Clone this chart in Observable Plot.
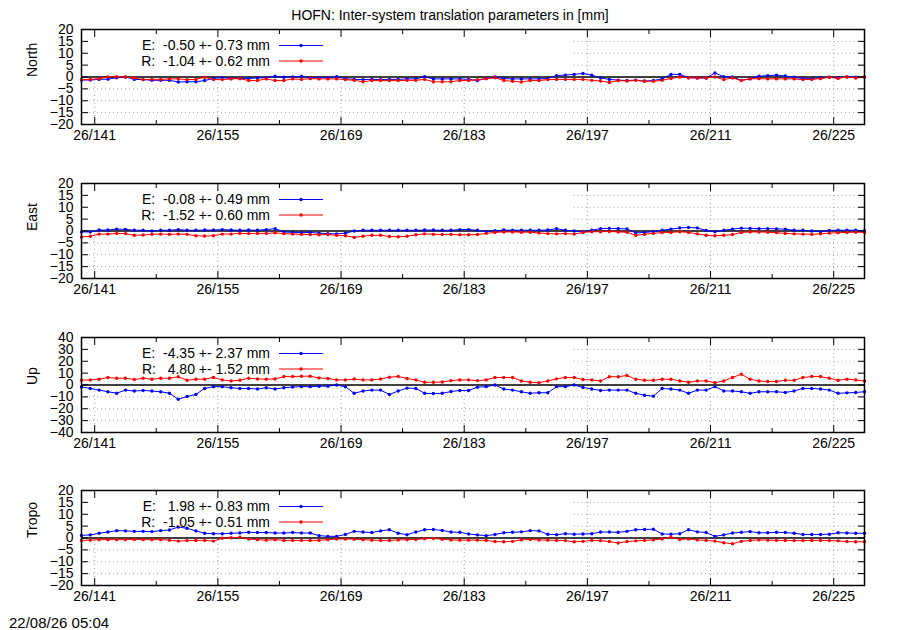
<!DOCTYPE html>
<html>
<head>
<meta charset="utf-8">
<script src="https://cdn.jsdelivr.net/npm/d3@7"></script>
<script src="https://cdn.jsdelivr.net/npm/@observablehq/plot@0.6"></script>
<style>
body { margin: 0; background: #fff; font-family: "Liberation Sans", Arial, sans-serif; }
#page { position: relative; width: 900px; height: 630px; overflow: hidden; background: #fff; }
.panel { position: absolute; left: 0; }
#title { position: absolute; left: 0; width: 900px; top: 7px; text-align: center; font-size: 14px; line-height: 16px; }
#stamp { position: absolute; left: 9px; top: 615px; font-size: 15px; line-height: 15px; z-index: 5; }
svg text { white-space: pre; }
</style>
</head>
<body>
<div id="page">
  <div id="title">HOFN: Inter-system translation parameters in [mm]</div>
  <div id="stamp">22/08/26 05:04</div>
</div>
<script>
// day of year (2026), one solution per day
const days = [139.5,140.5,141.5,142.5,143.5,144.5,145.5,146.5,147.5,148.5,
  149.5,150.5,151.5,152.5,153.5,154.5,155.5,156.5,157.5,158.5,
  159.5,160.5,161.5,162.5,163.5,164.5,165.5,166.5,167.5,168.5,
  169.5,170.5,171.5,172.5,173.5,174.5,175.5,176.5,177.5,178.5,
  179.5,180.5,181.5,182.5,183.5,184.5,185.5,186.5,187.5,188.5,
  189.5,190.5,191.5,192.5,193.5,194.5,195.5,196.5,197.5,198.5,
  199.5,200.5,201.5,202.5,203.5,204.5,205.5,206.5,207.5,208.5,
  209.5,210.5,211.5,212.5,213.5,214.5,215.5,216.5,217.5,218.5,
  219.5,220.5,221.5,222.5,223.5,224.5,225.5,226.5,227.5,228.5];

const majorTicks = [141, 155, 169, 183, 197, 211, 225];
const minorTicks = [148, 162, 176, 190, 204, 218];
const ticks20 = [20, 15, 10, 5, 0, -5, -10, -15, -20];
const ticks40 = [40, 30, 20, 10, 0, -10, -20, -30, -40];

const northE = [-1.3,-1.3,-1.0,-0.9,-0.3,0.0,-1.0,-1.1,-1.4,-1.4,
  -1.4,-2.1,-2.0,-2.0,-1.5,-0.6,-0.3,-0.6,-0.6,-0.6,
  -0.4,-0.3,0.3,-0.1,0.0,0.3,-0.3,-0.3,-0.3,0.1,
  -0.7,-1.0,-1.1,-1.0,-1.1,-1.0,-1.0,-0.8,-0.8,0.1,
  -0.8,-0.8,-0.8,-0.8,-1.0,-1.5,-0.6,0.0,-0.7,-0.8,
  -0.8,-0.8,-0.8,-0.6,0.6,0.8,1.1,1.5,0.8,-0.4,
  -1.0,-1.3,-1.5,-1.3,-1.7,-1.5,-0.8,1.1,1.1,-0.3,
  -0.4,-0.4,1.7,0.1,0.0,-1.4,-0.7,0.3,0.6,0.8,
  0.4,-0.1,-0.7,-0.7,-0.3,-0.1,-0.3,0.0,-0.1,0.0];
const northR = [-1.1,-1.0,-0.7,0.0,0.1,0.0,-0.4,-1.1,-1.0,-1.0,
  -0.8,-0.8,-1.1,-1.0,-0.1,-1.1,-1.1,-0.8,-0.7,-1.5,
  -1.5,-0.8,-1.5,-1.5,-0.8,-1.0,-0.7,-0.8,-0.8,-0.8,
  -1.1,-1.4,-2.0,-1.5,-1.5,-1.5,-1.5,-1.4,-1.4,-1.0,
  -2.0,-2.0,-2.0,-1.5,-1.5,-1.1,-0.7,-0.3,-1.5,-1.8,
  -2.1,-1.5,-1.5,-1.1,-1.0,-1.0,-1.0,-1.0,-1.4,-1.7,
  -2.3,-1.5,-1.7,-1.4,-1.8,-1.8,-1.4,-0.6,0.0,-0.3,
  -0.4,-0.4,0.0,-1.1,-0.4,-1.5,-0.8,-0.7,-0.8,-0.8,
  -0.8,-0.8,-1.1,-1.0,-0.7,-0.1,-0.6,0.0,-0.4,0.0];

const eastE = [-0.4,-0.4,0.4,0.4,0.8,0.7,0.3,0.3,0.0,0.3,
  0.3,0.6,0.3,0.3,0.4,0.4,0.6,0.4,0.3,0.4,
  0.3,0.6,1.0,-0.4,-0.6,-0.7,-0.6,-0.9,-1.1,-1.2,
  -0.9,0.0,0.3,0.3,0.3,0.3,0.3,0.3,0.3,0.4,
  0.4,0.3,0.3,0.6,0.6,0.3,-0.3,0.1,0.4,0.3,
  0.3,0.3,0.3,0.4,1.0,0.3,0.0,-0.4,0.3,1.0,
  1.1,1.0,0.9,-0.8,-0.6,-0.3,0.3,0.8,1.3,1.5,
  1.3,0.2,-0.3,0.3,0.8,1.2,1.1,1.0,1.0,0.9,
  0.8,0.3,0.3,0.0,-0.3,0.2,0.3,0.3,0.3,0.1];
const eastR = [-2.5,-2.2,-1.3,-1.3,-1.0,-1.1,-1.8,-1.7,-1.4,-1.3,
  -1.4,-1.3,-1.4,-2.0,-2.1,-2.0,-1.3,-1.3,-1.0,-1.1,
  -1.0,-1.0,-0.8,-1.1,-1.3,-1.4,-1.5,-1.6,-1.5,-1.8,
  -2.0,-2.7,-2.2,-1.8,-1.8,-2.3,-2.4,-2.2,-1.6,-1.2,
  -1.4,-1.5,-1.4,-1.6,-1.6,-1.5,-1.0,-0.6,-0.4,-0.4,
  -0.5,-0.5,-0.8,-1.1,-1.2,-1.1,-1.3,-0.6,-0.3,-0.3,
  -0.2,-0.4,-0.5,-1.8,-1.4,-1.0,-0.6,-0.6,-0.3,-0.6,
  -1.2,-1.8,-2.0,-1.8,-1.5,-0.6,-0.4,-0.4,-0.5,-0.7,
  -1.0,-1.2,-1.3,-1.4,-1.2,-0.9,-0.7,-0.6,-0.5,-0.6];

const upE = [-1.7,-2.9,-4.3,-5.7,-6.9,-4.3,-5.1,-4.6,-5.1,-5.7,
  -6.9,-12,-9.7,-8,-2.9,-1.4,-1.4,-2.3,-2.9,-2.9,
  -3.4,-2.3,-3.4,-2.3,-1.7,-1.4,-1.4,-1.0,-1.0,0,
  -1.5,-7,-5,-4.3,-4.3,-8,-5,-2.6,-2.9,-7,
  -7.2,-7,-5.5,-4.6,-4.6,-1.8,-1.4,0,-3.4,-4.3,
  -5.7,-7,-6.5,-6.5,-1.4,-1.4,0,-2,-3.4,-4.6,
  -4.3,-4.3,-4.3,-7,-8.6,-9.4,-2.9,-3.4,-4.3,-7,
  -4.3,-4.3,-1.4,-5,-5,-5.7,-7,-5.7,-5.7,-5.7,
  -6.3,-5,-2.9,-2.9,-3.4,-4.3,-7,-6.6,-6.3,-5.7];
const upR = [4,4.3,4.9,6.3,5.7,5.7,4.6,5.7,4.9,5.7,
  5.7,6.9,4,4.9,4.9,6.3,4.3,3.4,4,5.7,
  5.1,4.9,5.1,7.1,7.1,7.4,7.4,6,5.5,4.3,
  4.3,5,4.3,4.3,5,6.6,7.2,5.5,4.3,2.3,
  2.3,2.5,3.7,4.3,4.3,3.7,4.3,6.3,6.3,6.3,
  3.4,2.3,2.0,3.4,5.2,6.3,6.3,4.6,4.3,3.4,
  7,7,8,4.9,4,4,4.9,4.9,3.4,2.3,
  3.4,3.4,2,3.4,6.3,9.1,4.9,3.4,2.9,2.9,
  4,4,6.3,7.1,7.1,5.7,4,4.9,4.3,3.4];

const tropoE = [1.1,1.3,2.0,2.5,3.1,3.0,2.8,2.8,2.7,3.1,
  3.4,4.6,4.1,3.0,2.0,1.8,1.8,2.0,2.1,2.4,
  2.3,2.3,2.1,2.1,2.3,2.1,2.1,1.0,0.7,0.7,
  1.5,2.8,2.5,2.3,3.0,3.5,2.0,1.4,2.5,3.5,
  3.6,3.2,2.5,2.4,1.7,1.3,1.0,1.5,2.2,2.4,
  2.6,3.1,3.0,1.6,1.4,1.8,1.6,1.7,1.8,2.5,
  2.5,2.4,2.8,3.5,3.6,3.7,1.7,1.6,1.8,3.5,
  2.6,2.3,0.7,1.3,2.1,2.4,2.7,2.2,2.2,2.4,
  2.3,2.0,1.5,1.5,1.5,1.6,2.2,2.1,2.0,2.0];
const tropoR = [-1.0,-0.9,-0.7,-0.7,-0.7,-0.7,-0.6,-0.7,-0.7,-0.7,
  -0.9,-1.3,-1.1,-1.0,-1.0,-1.3,-0.1,0.1,0.3,-0.4,
  -0.7,-0.9,-0.7,-1.0,-1.0,-1.0,-1.0,-1.0,-0.7,-0.4,
  -0.4,-0.5,-0.7,-0.9,-1.0,-1.0,-0.8,-0.7,-0.6,-0.3,
  -0.2,-0.5,-0.8,-0.9,-0.9,-0.9,-1.0,-1.5,-1.6,-1.4,
  -0.8,-0.6,-0.8,-0.9,-1.0,-1.1,-1.6,-1.4,-1.0,-1.1,
  -1.5,-2.1,-1.5,-1.2,-1.0,-0.8,-0.4,0.3,-0.6,-0.4,
  -0.8,-1.0,-1.3,-2.0,-2.4,-1.4,-1.0,-0.8,-0.9,-1.0,
  -1.0,-1.1,-1.1,-1.0,-1.0,-1.1,-1.2,-1.5,-1.6,-1.6];

const panels = [
  {name: "North", e: northE, r: northR, lim: 20, ticks: ticks20,
   keyE: "E:  -0.50 +- 0.73 mm", keyR: "R:  -1.04 +- 0.62 mm"},
  {name: "East", e: eastE, r: eastR, lim: 20, ticks: ticks20,
   keyE: "E:  -0.08 +- 0.49 mm", keyR: "R:  -1.52 +- 0.60 mm"},
  {name: "Up", e: upE, r: upR, lim: 40, ticks: ticks40,
   keyE: "E:  -4.35 +- 2.37 mm", keyR: "R:   4.80 +- 1.52 mm"},
  {name: "Tropo", e: tropoE, r: tropoR, lim: 20, ticks: ticks20,
   keyE: "E:   1.98 +- 0.83 mm", keyR: "R:  -1.05 +- 0.51 mm"}
];

const panelTops = [29, 183, 337, 490];
const keyEnd = 195.5;   // key box hides the grid left of this day, above zero
const gridColor = "#a0a0a0";
const mt = 20;

function drawPanel(p, top) {
  const eData = days.map((d, i) => ({day: d, v: p.e[i]}));
  const rData = days.map((d, i) => ({day: d, v: p.r[i]}));
  const inner = p.ticks.filter(t => Math.abs(t) < p.lim && t !== 0);
  const dash = {stroke: gridColor, strokeDasharray: "1,3", strokeWidth: 1};

  const chart = Plot.plot({
    width: 900,
    height: 153,
    marginLeft: 81,
    marginRight: 36,
    marginTop: mt,
    marginBottom: 38,
    x: {domain: [days[0], days[days.length - 1]]},
    y: {domain: [-p.lim, p.lim]},
    style: {
      background: "transparent",
      color: "black",
      fontFamily: "'Liberation Sans', Arial, sans-serif",
      fontSize: "14px",
      overflow: "visible"
    },
    marks: [
      Plot.ruleY(inner.filter(t => t > 0), {x1: keyEnd, x2: days[days.length - 1], ...dash}),
      Plot.ruleY(inner.filter(t => t < 0), dash),
      Plot.ruleX(majorTicks.filter(t => t > keyEnd), dash),
      Plot.ruleX(majorTicks.filter(t => t <= keyEnd), {y1: -p.lim, y2: 0, ...dash}),
      Plot.ruleY([0], {stroke: "black", strokeWidth: 1.5}),
      Plot.line(eData, {x: "day", y: "v", stroke: "#0000ff", strokeWidth: 1}),
      Plot.dot(eData, {x: "day", y: "v", r: 1.7, fill: "#0000ff"}),
      Plot.line(rData, {x: "day", y: "v", stroke: "#ff0000", strokeWidth: 1}),
      Plot.dot(rData, {x: "day", y: "v", r: 1.7, fill: "#ff0000"}),
      Plot.frame({stroke: "black", strokeWidth: 1.5}),
      Plot.axisX({anchor: "bottom", ticks: majorTicks, tickSize: -7, fill: "none", label: null}),
      Plot.axisX({anchor: "top", ticks: majorTicks, tickSize: -7, fill: "none", label: null}),
      Plot.axisX({anchor: "bottom", ticks: minorTicks, tickSize: -4, fill: "none", label: null}),
      Plot.axisX({anchor: "top", ticks: minorTicks, tickSize: -4, fill: "none", label: null}),
      Plot.axisX({anchor: "bottom", ticks: majorTicks, tickSize: 0, tickPadding: 6,
                  tickFormat: d => "26/" + d, label: null}),
      Plot.axisY({anchor: "left", ticks: p.ticks, tickSize: -7, fill: "none", label: null}),
      Plot.axisY({anchor: "right", ticks: p.ticks, tickSize: -7, fill: "none", label: null}),
      Plot.axisY({anchor: "left", ticks: p.ticks, tickSize: 0, tickPadding: 8, label: null}),
      Plot.text([p.name], {frameAnchor: "left", dx: -49, rotate: -90, fontSize: 14})
    ]
  });

  // key, top-left
  const svg = d3.select(chart);
  [[p.keyE, "#0000ff"], [p.keyR, "#ff0000"]].forEach(([label, col], j) => {
    const y = mt + 16.5 + j * 15.5;
    svg.append("text").attr("x", 270).attr("y", y).attr("dy", "0.35em")
      .attr("text-anchor", "end").attr("fill", "black").attr("font-size", 14)
      .style("white-space", "pre").text(label);
    svg.append("line").attr("x1", 279).attr("x2", 323).attr("y1", y).attr("y2", y)
      .attr("stroke", col).attr("stroke-width", 1);
    svg.append("circle").attr("cx", 301).attr("cy", y).attr("r", 1.7).attr("fill", col);
  });

  const div = d3.select("#page").append("div").attr("class", "panel").style("top", (top - mt) + "px");
  div.append(() => chart);
}

panels.forEach((p, i) => drawPanel(p, panelTops[i]));
</script>
</body>
</html>
